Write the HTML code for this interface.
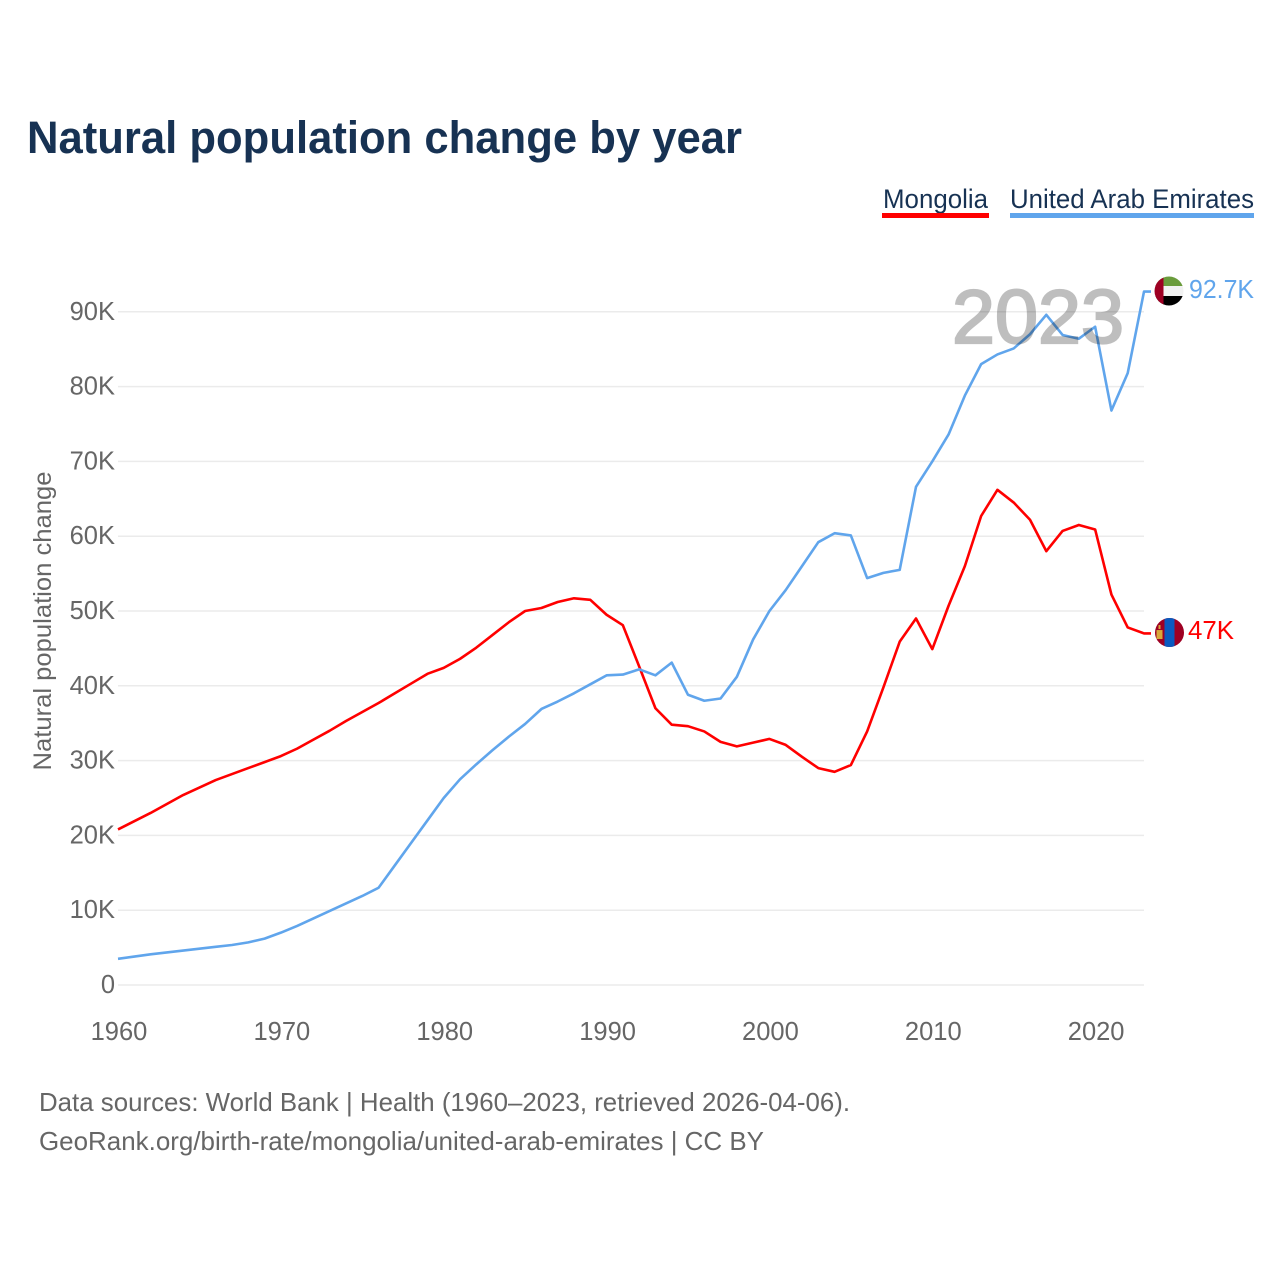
<!DOCTYPE html>
<html lang="en">
<head>
<meta charset="utf-8">
<title>Natural population change by year</title>
<style>
html,body{margin:0;padding:0;background:#fff;}
svg{display:block;font-family:"Liberation Sans",sans-serif;}
</style>
</head>
<body>
<svg id="chart" xmlns="http://www.w3.org/2000/svg" width="1280" height="1280" viewBox="0 0 1280 1280">
  <rect x="0" y="0" width="1280" height="1280" fill="#ffffff"/>
  <text x="27" y="153" font-size="45" font-weight="700" fill="#173253" textLength="715" lengthAdjust="spacingAndGlyphs">Natural population change by year</text>

  <g>
    <g>
      <text x="883" y="208" font-size="27" fill="#173253" textLength="105" lengthAdjust="spacingAndGlyphs">Mongolia</text>
      <rect x="882" y="213" width="107" height="5" fill="#ff0000"/>
    </g>
    <g>
      <text x="1010" y="208" font-size="27" fill="#173253" textLength="244" lengthAdjust="spacingAndGlyphs">United Arab Emirates</text>
      <rect x="1010" y="213" width="244" height="5" fill="#60a5ec"/>
    </g>
  </g>

  <g id="grid"></g>
  <g id="yticks"></g>
  <g id="xticks"></g>
  <text transform="translate(51,621) rotate(-90)" text-anchor="middle" font-size="25" fill="#666666" textLength="299" lengthAdjust="spacingAndGlyphs">Natural population change</text>
  <g id="series"></g>
  <text x="952" y="343" font-size="76" font-weight="400" fill="#000000" stroke="#000000" stroke-width="2.2" opacity="0.25" textLength="172" lengthAdjust="spacingAndGlyphs">2023</text>

  <defs>
    <clipPath id="clip-uae"><circle id="clip-uae-c" cx="1169" cy="291" r="14.5"/></clipPath>
    <clipPath id="clip-mng"><circle id="clip-mng-c" cx="1169.5" cy="632.5" r="14.5"/></clipPath>
  </defs>
  <g id="flag-uae" clip-path="url(#clip-uae)">
    <rect x="1154" y="276" width="32" height="31" fill="#f2f2f2"/>
    <rect x="1154" y="276" width="32" height="10" fill="#6a9c3c"/>
    <rect x="1154" y="296" width="32" height="11" fill="#000000"/>
    <rect x="1154" y="276" width="9.5" height="31" fill="#9e0023"/>
  </g>
  <g id="flag-mng" clip-path="url(#clip-mng)">
    <rect x="1154" y="617" width="32" height="31" fill="#9e0023"/>
    <rect x="1164.5" y="617" width="10" height="31" fill="#0a5ac0"/>
    <rect x="1156.5" y="630" width="6" height="9" fill="#d9a93a"/>
    <rect x="1158.5" y="625" width="2" height="4" fill="#d9a93a"/>
  </g>
  <text id="label-uae" x="1189" y="298" font-size="25.5" fill="#60a5ec" textLength="65" lengthAdjust="spacingAndGlyphs">92.7K</text>
  <text id="label-mng" x="1188" y="639" font-size="25.5" fill="#ff0000" textLength="46" lengthAdjust="spacingAndGlyphs">47K</text>

  <g>
    <text x="39" y="1111" font-size="26" fill="#666666" textLength="811" lengthAdjust="spacingAndGlyphs">Data sources: World Bank | Health (1960–2023, retrieved 2026-04-06).</text>
    <text x="39" y="1150" font-size="26" fill="#666666" textLength="725" lengthAdjust="spacingAndGlyphs">GeoRank.org/birth-rate/mongolia/united-arab-emirates | CC BY</text>
  </g>
</svg>
<script>
const startYear = 1960;
const mongoliaValues = [20.8,21.9,23.0,24.2,25.4,26.4,27.4,28.2,29.0,29.8,30.6,31.6,32.8,34.0,35.3,36.5,37.7,39.0,40.3,41.6,42.4,43.6,45.1,46.8,48.5,50.0,50.4,51.2,51.7,51.5,49.5,48.1,42.6,37.0,34.8,34.6,33.9,32.5,31.9,32.4,32.9,32.1,30.5,29.0,28.5,29.4,33.9,39.8,45.9,49.0,44.9,50.7,56.0,62.7,66.2,64.5,62.2,58.0,60.7,61.5,60.9,52.2,47.8,47.0];
const uaeValues = [3.5,3.8,4.1,4.35,4.6,4.85,5.1,5.35,5.7,6.2,7.0,7.9,8.9,9.9,10.9,11.9,13.0,16.0,19.0,22.0,25.0,27.5,29.5,31.4,33.2,34.9,36.9,37.9,39.0,40.2,41.4,41.5,42.2,41.4,43.1,38.8,38.0,38.3,41.2,46.2,50.0,52.8,56.0,59.2,60.4,60.1,54.4,55.1,55.5,66.6,70.0,73.6,78.8,83.0,84.3,85.1,87.0,89.6,86.9,86.4,88.0,76.8,81.8,92.7];
const yTickValues = [0,10,20,30,40,50,60,70,80,90];
const yTickLabels = ['0','10K','20K','30K','40K','50K','60K','70K','80K','90K'];
const xTickValues = [1960,1970,1980,1990,2000,2010,2020];

const NS = 'http://www.w3.org/2000/svg';
function xScale(year){ return 118 + (year - 1960) * (1144 - 118) / 63; }
function yScale(value){ return 985 - value * 7.48; }

const grid = document.getElementById('grid');
const yticks = document.getElementById('yticks');
const xticks = document.getElementById('xticks');
const series = document.getElementById('series');

yTickValues.forEach(function(v, i){
  const line = document.createElementNS(NS, 'line');
  
  
  line.setAttribute('x1', 118);
  line.setAttribute('x2', 1144);
  line.setAttribute('y1', yScale(v));
  line.setAttribute('y2', yScale(v));
  line.setAttribute('stroke', '#ebebeb');
  line.setAttribute('stroke-width', '1.5');
  grid.appendChild(line);

  const t = document.createElementNS(NS, 'text');
  
  
  t.setAttribute('x', 115);
  t.setAttribute('y', yScale(v) + 8);
  t.setAttribute('text-anchor', 'end');
  t.setAttribute('font-size', '25.5');
  t.setAttribute('fill', '#666666');
  t.textContent = yTickLabels[i];
  yticks.appendChild(t);
});

xTickValues.forEach(function(year){
  const t = document.createElementNS(NS, 'text');
  
  
  t.setAttribute('x', xScale(year) + 1);
  t.setAttribute('y', 1040);
  t.setAttribute('text-anchor', 'middle');
  t.setAttribute('font-size', '25.5');
  t.setAttribute('fill', '#666666');
  t.textContent = String(year);
  xticks.appendChild(t);
});

function linePath(values){
  let d = '';
  values.forEach(function(v, i){
    d += (i ? 'L' : 'M') + xScale(startYear + i).toFixed(2) + ' ' + yScale(v).toFixed(2);
  });
  const last = yScale(values[values.length - 1]).toFixed(2);
  return { d: d, tail: 'L1151 ' + last };
}

const mongoliaPath = linePath(mongoliaValues);
const mongoliaLine = document.createElementNS(NS, 'path');


mongoliaLine.setAttribute('d', mongoliaPath.d + mongoliaPath.tail);
mongoliaLine.setAttribute('fill', 'none');
mongoliaLine.setAttribute('stroke', '#ff0000');
mongoliaLine.setAttribute('stroke-width', '2.6');
mongoliaLine.setAttribute('stroke-linejoin', 'round');
series.appendChild(mongoliaLine);

const uaePath = linePath(uaeValues);
const uaeLine = document.createElementNS(NS, 'path');


uaeLine.setAttribute('d', uaePath.d + uaePath.tail);
uaeLine.setAttribute('fill', 'none');
uaeLine.setAttribute('stroke', '#60a5ec');
uaeLine.setAttribute('stroke-width', '2.6');
uaeLine.setAttribute('stroke-linejoin', 'round');
series.appendChild(uaeLine);

/* end markers follow the last data value */
const uaeLast = yScale(uaeValues[uaeValues.length - 1]);
const mngLast = yScale(mongoliaValues[mongoliaValues.length - 1]);
document.getElementById('flag-uae').setAttribute('transform', 'translate(0,' + (uaeLast - 291.6).toFixed(2) + ')');
document.getElementById('flag-mng').setAttribute('transform', 'translate(0,' + (mngLast - 633.4).toFixed(2) + ')');
document.getElementById('label-uae').setAttribute('y', (uaeLast + 6.4).toFixed(2));
document.getElementById('label-mng').setAttribute('y', (mngLast + 5.6).toFixed(2));
</script>
</body>
</html>
